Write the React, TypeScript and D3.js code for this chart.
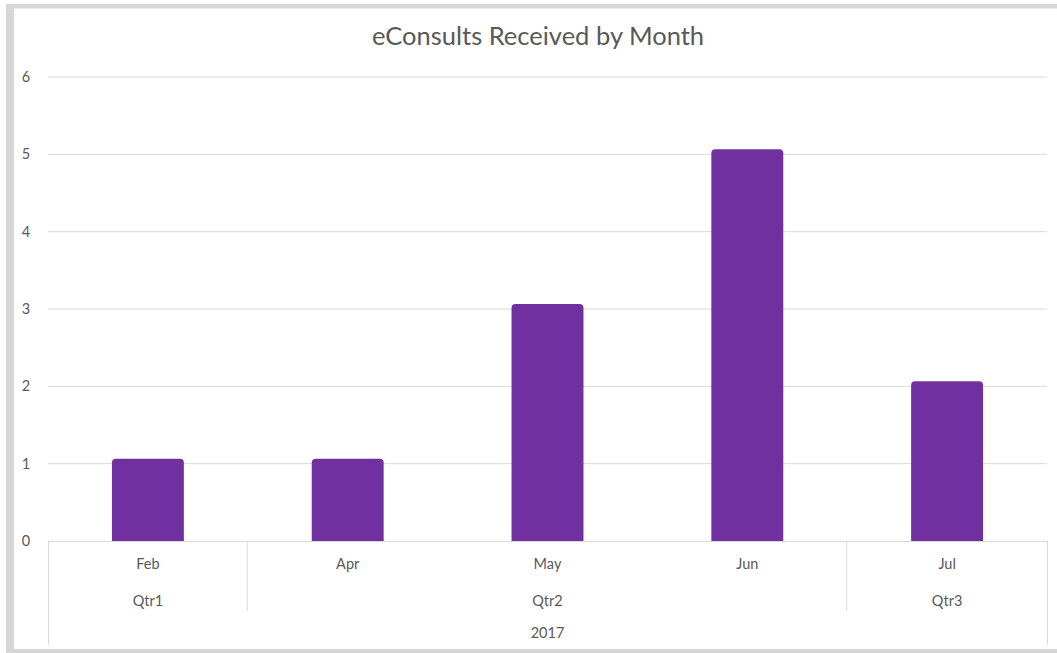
import React, { useEffect, useRef } from "react";
import * as d3 from "d3";

const months = ["Feb", "Apr", "May", "Jun", "Jul"];
const values = [1, 1, 3, 5, 2];
const quarters = [
  { label: "Qtr1", start: 0, end: 1 },
  { label: "Qtr2", start: 1, end: 4 },
  { label: "Qtr3", start: 4, end: 5 },
];
const yearLabel = "2017";
const yTicks = [0, 1, 2, 3, 4, 5, 6];

export default function App() {
  const ref = useRef<SVGSVGElement>(null);

  useEffect(() => {
    const svg = d3.select(ref.current);
    svg.selectAll("*").remove();
    const W = 1057;
    const H = 653;
    const left = 48;
    const right = 1047;
    const top = 77;
    const bottom = 541;
    const font = "Lato, 'Open Sans', sans-serif";
    const textColor = "#595959";
    const lineColor = "#d9d9d9";
    const frame = "#d6d6d6";

    // frame
    svg.append("rect").attr("x", 0).attr("y", 0).attr("width", W).attr("height", H).attr("fill", "#fff");
    svg.append("rect").attr("x", 6).attr("y", 4).attr("width", W - 6).attr("height", 4.5).attr("fill", frame);
    svg.append("rect").attr("x", 6).attr("y", 4).attr("width", 8).attr("height", H - 4).attr("fill", frame);
    svg.append("rect").attr("x", 6).attr("y", 649).attr("width", W - 6).attr("height", 4).attr("fill", frame);

    const x = d3.scaleBand<number>().domain(d3.range(months.length)).range([left, right]).paddingInner(0).paddingOuter(0);
    const y = d3.scaleLinear().domain([0, 6]).range([bottom, top]);
    const bw = x.bandwidth() * 0.36;

    svg.append("text").attr("x", 538).attr("y", 45).attr("text-anchor", "middle")
      .attr("font-family", font).attr("font-size", 25.5).attr("fill", textColor)
      .text("eConsults Received by Month");

    // grid
    svg.append("g").selectAll("line").data(yTicks.filter((t) => t > 0)).enter().append("line")
      .attr("x1", left).attr("x2", right)
      .attr("y1", (d) => y(d)).attr("y2", (d) => y(d))
      .attr("stroke", lineColor).attr("stroke-width", 1);

    svg.append("g").selectAll("text").data(yTicks).enter().append("text")
      .attr("x", 26).attr("y", (d) => y(d) + 5).attr("text-anchor", "middle")
      .attr("font-family", font).attr("font-size", 14.5).attr("fill", textColor)
      .text((d) => d);

    // bars
    const r = 4;
    svg.append("g").selectAll("path").data(values).enter().append("path")
      .attr("d", (d, i) => {
        const x0 = (x(i) as number) + (x.bandwidth() - bw) / 2;
        const x1 = x0 + bw;
        const yt = y(d) - 5;
        return `M${x0},${bottom}V${yt + r}Q${x0},${yt} ${x0 + r},${yt}H${x1 - r}Q${x1},${yt} ${x1},${yt + r}V${bottom}Z`;
      })
      .attr("fill", "#7030a0");

    // category axis
    const axis = svg.append("g").attr("stroke", lineColor).attr("stroke-width", 1);
    axis.append("line").attr("x1", left).attr("x2", right).attr("y1", bottom + 0.5).attr("y2", bottom + 0.5);
    axis.append("line").attr("x1", left + 0.5).attr("x2", left + 0.5).attr("y1", bottom).attr("y2", 645);
    axis.append("line").attr("x1", right + 0.5).attr("x2", right + 0.5).attr("y1", bottom).attr("y2", 645);
    quarters.slice(1).forEach((q) => {
      const xv = (x(q.start) as number) - 0.5;
      axis.append("line").attr("x1", xv).attr("x2", xv).attr("y1", bottom).attr("y2", 611);
    });

    svg.append("g").selectAll("text").data(months).enter().append("text")
      .attr("x", (_, i) => (x(i) as number) + x.bandwidth() / 2).attr("y", 569)
      .attr("text-anchor", "middle").attr("font-family", font).attr("font-size", 14.5).attr("fill", textColor)
      .text((d) => d);

    svg.append("g").selectAll("text").data(quarters).enter().append("text")
      .attr("x", (q) => ((x(q.start) as number) + (x(q.end - 1) as number) + x.bandwidth()) / 2).attr("y", 606)
      .attr("text-anchor", "middle").attr("font-family", font).attr("font-size", 14.5).attr("fill", textColor)
      .text((q) => q.label);

    svg.append("text").attr("x", (left + right) / 2).attr("y", 638).attr("text-anchor", "middle")
      .attr("font-family", font).attr("font-size", 14.5).attr("fill", textColor).text(yearLabel);
  }, []);

  return (
    <svg
      ref={ref}
      width={1057}
      height={653}
      style={{ position: "absolute", left: 0, top: 0, display: "block" }}
    ></svg>
  );
}
